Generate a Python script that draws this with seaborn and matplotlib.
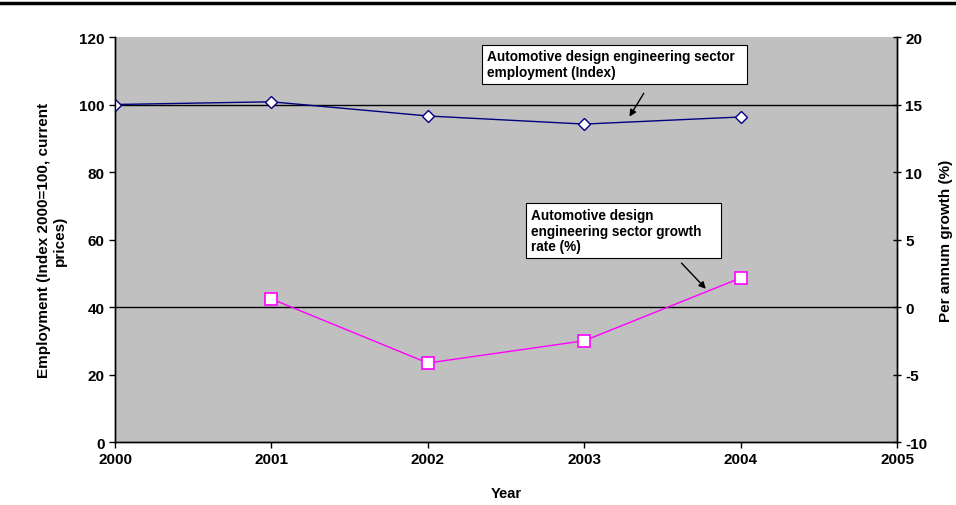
import matplotlib

matplotlib.use("Agg")
import matplotlib.pyplot as plt
import pandas as pd
import seaborn as sns
from matplotlib.lines import Line2D

# data
years = [2000, 2001, 2002, 2003, 2004]
employment_index = [100.0, 100.8, 96.6, 94.2, 96.3]
growth_years = [2001, 2002, 2003, 2004]
growth_rate = [0.6, -4.15, -2.5, 2.15]

left_ticks = [0, 20, 40, 60, 80, 100, 120]
right_ticks = [-10, -5, 0, 5, 10, 15, 20]
x_ticks = [2000, 2001, 2002, 2003, 2004, 2005]
ref_lines = [40, 100]

sns.set_theme(style="white")
plt.rcParams["font.family"] = ["Liberation Sans", "DejaVu Sans"]
plt.rcParams["font.weight"] = "bold"
plt.rcParams["axes.unicode_minus"] = False
plt.rcParams["text.color"] = "black"
plt.rcParams["axes.labelcolor"] = "black"

emp_df = pd.DataFrame({"year": years, "index": employment_index})
gr_df = pd.DataFrame({"year": growth_years, "growth": growth_rate})

fig = plt.figure(figsize=(9.56, 5.06), dpi=100)
ax = fig.add_axes([0.1203, 0.1245, 0.8180, 0.8004])
ax.set_facecolor("#c0c0c0")

for v in ref_lines:
    ax.axhline(v, color="black", lw=1.0, zorder=1)

sns.lineplot(
    data=emp_df, x="year", y="index", ax=ax, color="#000080", lw=1.0,
    marker="D", markersize=6, markerfacecolor="white", markeredgecolor="#000080",
    markeredgewidth=1.0, zorder=3,
)
ax.set_xlim(2000, 2005)
ax.set_ylim(0, 120)
ax.set_xticks(x_ticks)
ax.set_xticklabels([str(x) for x in x_ticks])
ax.set_yticks(left_ticks)

ax2 = ax.twinx()
sns.lineplot(
    data=gr_df, x="year", y="growth", ax=ax2, color="#ff00ff", lw=1.0,
    marker="s", markersize=8, markerfacecolor="white", markeredgecolor="#ff00ff",
    markeredgewidth=1.2, zorder=3,
)
ax2.set_ylim(-10, 20)
ax2.set_yticks(right_ticks)
ax2.set_xlim(2000, 2005)

for a in (ax, ax2):
    for s in a.spines.values():
        s.set_color("black")
        s.set_linewidth(1.0)
    a.spines["top"].set_visible(False)
    a.tick_params(axis="both", labelsize=11, length=4, width=1, color="black",
                  labelcolor="black")
ax.tick_params(axis="both", direction="out", bottom=True, left=True)
ax2.tick_params(axis="y", direction="inout", right=True, length=6, pad=3)

ax.set_xlabel("Year", fontsize=10.5, fontweight="bold", labelpad=14)
ax.set_ylabel("Employment (Index 2000=100, current\nprices)", fontsize=11,
              fontweight="bold", labelpad=9, linespacing=1.1)
ax2.set_ylabel("Per annum growth (%)", fontsize=11, fontweight="bold", labelpad=8)
for lab in ax.get_xticklabels() + ax.get_yticklabels() + ax2.get_yticklabels():
    lab.set_fontweight("bold")

# callout boxes; trailing spaces widen the boxes like the original
box = dict(boxstyle="square,pad=0.35", facecolor="white", edgecolor="black", lw=0.8)
ax.text(2002.38, 116.3, "Automotive design engineering sector  \nemployment (Index)",
        fontsize=9.8, fontweight="bold", ha="left", va="top", bbox=box, zorder=5,
        linespacing=1.15)
ax.annotate("", xy=(2003.28, 95.7), xytext=(2003.39, 104.0),
            arrowprops=dict(arrowstyle="-|>", color="black", lw=1.0, mutation_scale=10))

ax2.text(2002.66, 7.33, "Automotive design\nengineering sector growth    \nrate (%)",
         fontsize=9.8, fontweight="bold", ha="left", va="top", bbox=box, zorder=5,
         linespacing=1.15)
ax2.annotate("", xy=(2003.79, 1.2), xytext=(2003.61, 3.4),
             arrowprops=dict(arrowstyle="-|>", color="black", lw=1.0, mutation_scale=10))

fig.add_artist(Line2D([0, 1], [0.992, 0.992], transform=fig.transFigure,
                      color="black", lw=2.5))

fig.savefig("out.png", dpi=100)
